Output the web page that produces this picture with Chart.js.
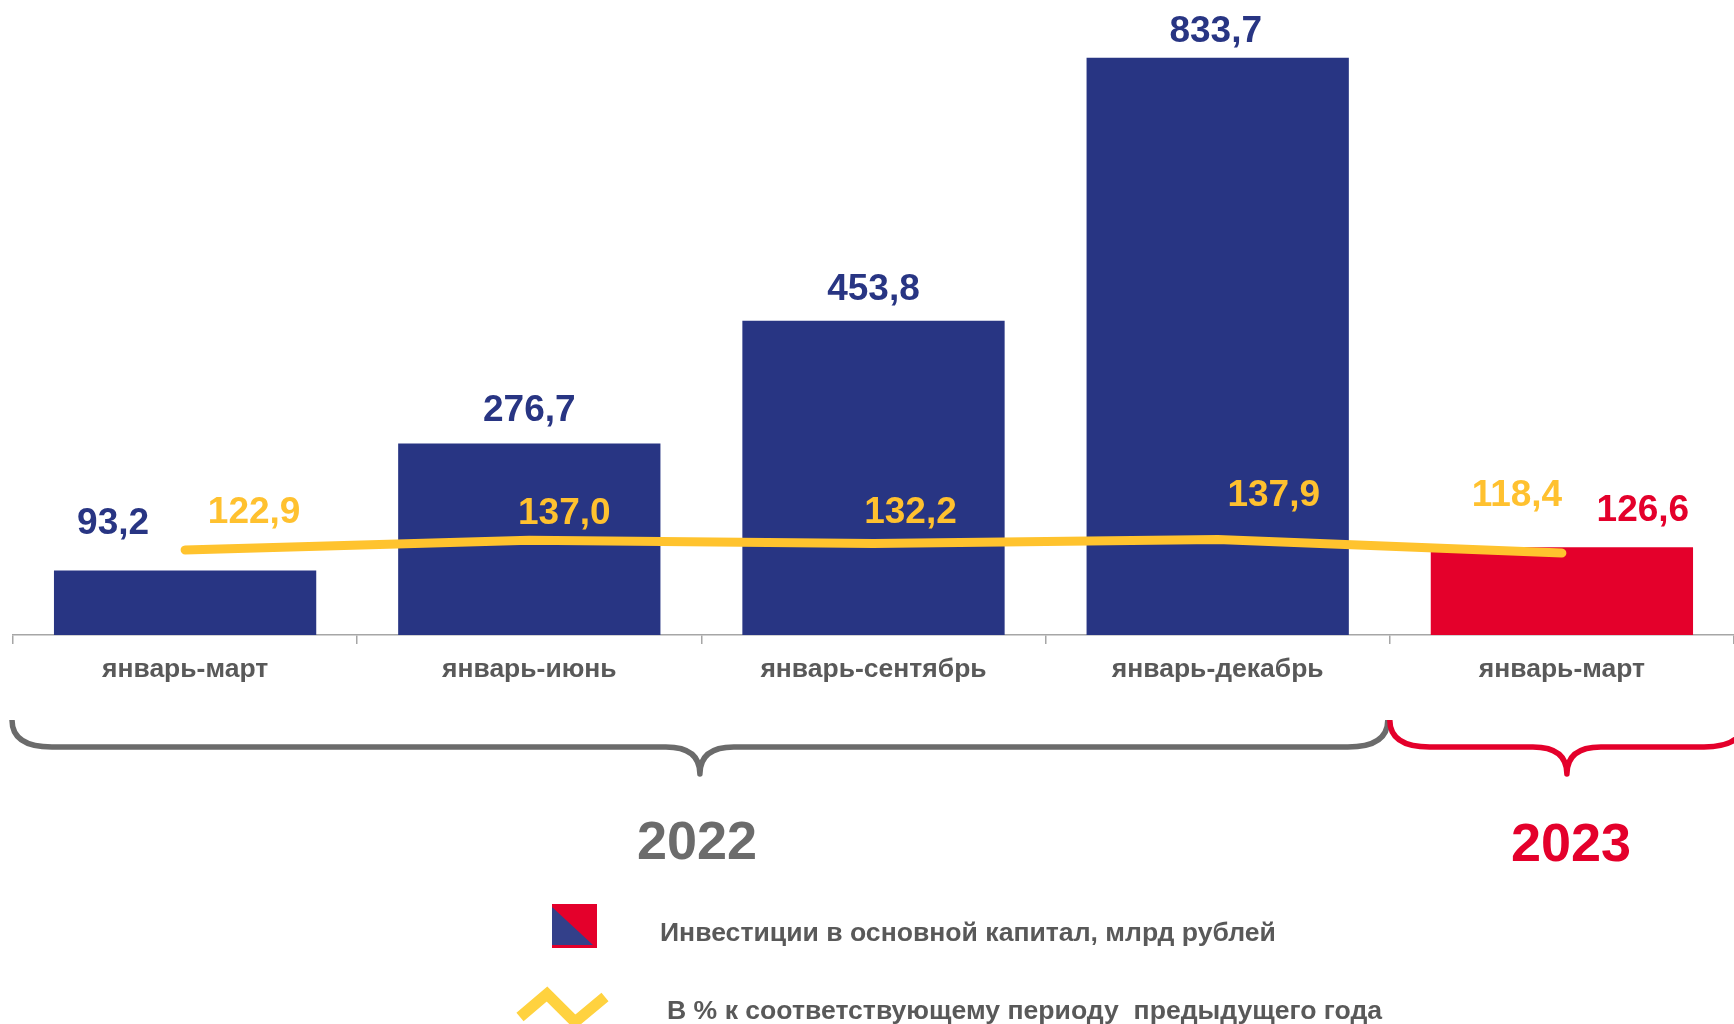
<!DOCTYPE html>
<html>
<head>
<meta charset="utf-8">
<script src="https://cdn.jsdelivr.net/npm/chart.js@4.4.1/dist/chart.umd.min.js"></script>
<style>
  html, body { margin: 0; padding: 0; background: #ffffff; }
  #wrap { position: relative; width: 1734px; height: 1024px; overflow: hidden;
          font-family: 'Liberation Sans', Arial, Helvetica, sans-serif; }
  #c { position: absolute; left: 0; top: 0; }
  .year { position: absolute; font-weight: bold; font-size: 54px; line-height: 1;
          transform: translate(-50%, -50%); white-space: nowrap; }
  .legtext { position: absolute; font-weight: bold; font-size: 26.6px; color: #595959;
             white-space: pre; line-height: 1; transform: translateY(-50%); }
  .icon { position: absolute; }
</style>
</head>
<body>
<div id="wrap">
  <canvas id="c" width="1734" height="1024"></canvas>
</div>
<script>
// ---- data ----
const categories = ['январь-март', 'январь-июнь', 'январь-сентябрь', 'январь-декабрь', 'январь-март'];
const categoryYears = ['2022', '2022', '2022', '2022', '2023'];
const investments = [93.2, 276.7, 453.8, 833.7, 126.6];
const percentPrevYear = [122.9, 137.0, 132.2, 137.9, 118.4];
const seriesNames = ['Инвестиции в основной капитал, млрд рублей',
                     'В % к соответствующему периоду  предыдущего года'];
const yearNames = ['2022', '2023'];

// ---- styles ----
const NAVY = '#283583';
const RED = '#E4002B';
const YELLOW = '#FFC32E';
const GREY = '#6b6b6b';
const FONT = "'Liberation Sans', Arial, Helvetica, sans-serif";
const yearColor = { '2022': GREY, '2023': RED };
const barFill = { '2022': NAVY, '2023': RED };

// label nudges relative to the mark anchor (px)
const barLabelNudge = [[-72, -47], [0, -33], [0, -31], [-2, -26], [81, -37]];
const pctLabelNudge = [[69, -37], [35, -26], [37, -31], [56, -44], [-45, -57]];

const valueLabels = {
  id: 'valueLabels',
  afterDatasetsDraw(chart) {
    const ctx = chart.ctx;
    ctx.save();
    ctx.font = 'bold 37px ' + FONT;
    ctx.textAlign = 'center';
    ctx.textBaseline = 'middle';
    chart.data.datasets.forEach((ds, di) => {
      const meta = chart.getDatasetMeta(di);
      meta.data.forEach((el, i) => {
        const txt = ds.data[i].toFixed(1).replace('.', ',');
        const n = ds.labelNudge[i];
        ctx.fillStyle = Array.isArray(ds.labelColor) ? ds.labelColor[i] : ds.labelColor;
        ctx.fillText(txt, el.x + n[0], el.y + n[1]);
      });
    });
    ctx.restore();
  }
};

function drawBrace(ctx, x1, x2, yTop, yMid, yTip, rEnd, rTip) {
  const xm = (x1 + x2) / 2;
  ctx.beginPath();
  ctx.moveTo(x1, yTop);
  ctx.quadraticCurveTo(x1, yMid, x1 + rEnd, yMid);
  ctx.lineTo(xm - rTip, yMid);
  ctx.quadraticCurveTo(xm, yMid, xm, yTip);
  ctx.quadraticCurveTo(xm, yMid, xm + rTip, yMid);
  ctx.lineTo(x2 - rEnd, yMid);
  ctx.quadraticCurveTo(x2, yMid, x2, yTop);
  ctx.stroke();
}

const bracesPlugin = {
  id: 'braces',
  afterDraw(chart) {
    const xs = chart.scales.x;
    const ctx = chart.ctx;
    const half = (xs.getPixelForValue(1) - xs.getPixelForValue(0)) / 2;
    const groups = [];
    categoryYears.forEach((y, i) => {
      const g = groups[groups.length - 1];
      if (g && g.year === y) g.last = i; else groups.push({ year: y, first: i, last: i });
    });
    ctx.save();
    ctx.lineWidth = 5.5;
    ctx.lineCap = 'butt';
    ctx.lineJoin = 'round';
    groups.forEach((g, gi) => {
      let x1 = xs.getPixelForValue(g.first) - half;
      let x2 = xs.getPixelForValue(g.last) + half;
      if (gi === 0) x1 -= 1;
      if (gi < groups.length - 1) x2 -= 2; else x2 += 10;
      ctx.strokeStyle = yearColor[g.year];
      drawBrace(ctx, x1, x2, 720, 747, 774, 40, 34);
    });
    ctx.restore();
  }
};

const chart = new Chart(document.getElementById('c'), {
  data: {
    labels: categories,
    datasets: [
      {
        type: 'line',
        label: seriesNames[1],
        data: percentPrevYear,
        borderColor: YELLOW,
        borderWidth: 9,
        borderCapStyle: 'round',
        borderJoinStyle: 'round',
        pointRadius: 0,
        tension: 0,
        order: 0,
        labelNudge: pctLabelNudge,
        labelColor: '#FFC12F'
      },
      {
        type: 'bar',
        label: seriesNames[0],
        data: investments,
        backgroundColor: categoryYears.map(y => barFill[y]),
        borderWidth: 0,
        barPercentage: 0.762,
        categoryPercentage: 1.0,
        order: 1,
        labelNudge: barLabelNudge,
        labelColor: categoryYears.map(y => barFill[y])
      }
    ]
  },
  options: {
    responsive: false,
    animation: false,
    devicePixelRatio: 1,
    layout: { padding: { left: 13, right: 0, top: 0, bottom: 0 } },
    plugins: { legend: { display: false }, tooltip: { enabled: false } },
    scales: {
      x: {
        offset: true,
        grid: { display: true, drawOnChartArea: false, drawTicks: true, tickLength: 9,
                color: '#a6a6a6', lineWidth: 1.5, offset: true },
        border: { display: true, color: '#a6a6a6', width: 1.5 },
        ticks: { color: '#595959', font: { family: FONT, size: 26.5, weight: 'bold' },
                 padding: 10, maxRotation: 0, autoSkip: false },
        afterFit(scale) { scale.height = 389; }
      },
      y: { display: false, min: 0, max: 917 }
    }
  },
  plugins: [valueLabels, bracesPlugin]
});

// ---- HTML overlays: year captions and legend ----
const wrap = document.getElementById('wrap');
const yearPos = { '2022': [697, 840], '2023': [1571, 842] };
yearNames.forEach(y => {
  const d = document.createElement('div');
  d.className = 'year';
  d.textContent = y;
  d.style.left = yearPos[y][0] + 'px';
  d.style.top = yearPos[y][1] + 'px';
  d.style.color = yearColor[y];
  wrap.appendChild(d);
});

const svgNS = 'http://www.w3.org/2000/svg';
function addSvg(left, top, w, h, inner) {
  const s = document.createElementNS(svgNS, 'svg');
  s.setAttribute('class', 'icon');
  s.setAttribute('width', w); s.setAttribute('height', h);
  s.style.left = left + 'px'; s.style.top = top + 'px';
  s.innerHTML = inner;
  wrap.appendChild(s);
}
addSvg(552, 904, 45, 44,
  '<rect x="0" y="0" width="45" height="44" fill="' + RED + '"/>' +
  '<polygon points="0,3 0,41 41,41" fill="#33408A"/>');
addSvg(505, 979, 115, 49,
  '<polyline points="15,38 42,15 70,43 100,18" fill="none" stroke="#FFD23F" stroke-width="11" stroke-linejoin="miter" stroke-linecap="butt"/>');

const legPos = [[660, 932], [667, 1010]];
seriesNames.forEach((t, i) => {
  const d = document.createElement('div');
  d.className = 'legtext';
  d.textContent = t;
  d.style.left = legPos[i][0] + 'px';
  d.style.top = legPos[i][1] + 'px';
  wrap.appendChild(d);
});
</script>
</body>
</html>
